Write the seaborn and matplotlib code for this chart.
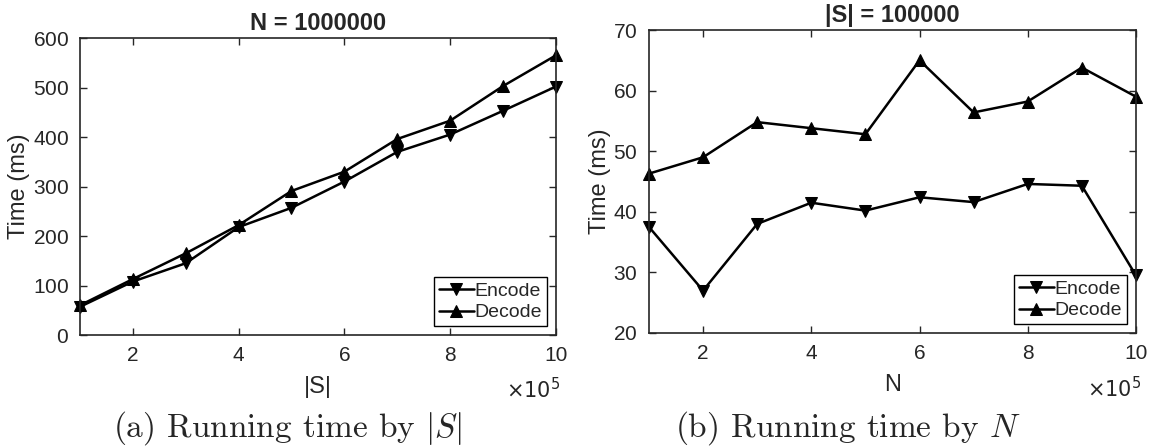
import numpy as np
import pandas as pd
import seaborn as sns
import matplotlib
matplotlib.use("Agg")
import matplotlib.pyplot as plt
from matplotlib.ticker import FuncFormatter

# x values (multiples of 1e5)
x_vals = [100000, 200000, 300000, 400000, 500000, 600000, 700000, 800000, 900000, 1000000]

# (a) running time by |S|, N = 1000000
enc_by_s = [57, 108, 145, 218, 257, 310, 370, 405, 453, 502]
dec_by_s = [60, 113, 165, 222, 291, 330, 396, 433, 503, 565]

# (b) running time by N, |S| = 100000
enc_by_n = [37.5, 27.0, 38.0, 41.5, 40.2, 42.4, 41.6, 44.6, 44.3, 29.5]
dec_by_n = [46.3, 49.0, 54.8, 53.8, 52.8, 65.0, 56.4, 58.2, 63.8, 59.0]

ops = ["Encode", "Decode"]

sns.set_theme(style="ticks")
plt.rcParams["font.family"] = ["Liberation Sans", "DejaVu Sans"]
plt.rcParams["mathtext.fontset"] = "cm"
plt.rcParams["axes.formatter.use_mathtext"] = True

fig = plt.figure(figsize=(11.57, 4.48), dpi=100)
ax1 = fig.add_axes([0.0691, 0.2522, 0.4114, 0.6629])
ax2 = fig.add_axes([0.5609, 0.2567, 0.4209, 0.6763])


def long_df(enc, dec):
    return pd.DataFrame({
        "x": x_vals * 2,
        "t": enc + dec,
        "op": ["Encode"] * len(enc) + ["Decode"] * len(dec),
    })


def draw(ax, df, title, xlabel, ylim, yticks, caption, cap_x):
    sns.lineplot(data=df, x="x", y="t", hue="op", style="op", hue_order=ops,
                 style_order=ops, palette={"Encode": "black", "Decode": "black"},
                 markers={"Encode": "v", "Decode": "^"}, dashes=False,
                 markersize=8, linewidth=1.8, markeredgecolor="black", ax=ax)
    for ln in ax.get_lines():
        ln.set_clip_on(False)
    ax.set_xlim(100000, 1000000)
    ax.set_ylim(*ylim)
    ax.set_yticks(yticks)
    ax.set_xticks([200000, 400000, 600000, 800000, 1000000])
    ax.xaxis.set_major_formatter(FuncFormatter(lambda v, p: "%d" % round(v / 1e5)))
    ax.tick_params(direction="in", top=True, right=True, labelsize=15,
                   length=5, width=1, colors="#262626", pad=8)
    for s in ax.spines.values():
        s.set_color("#262626")
        s.set_linewidth(1.2)
    ax.set_title(title, fontsize=17, fontweight="bold", pad=6)
    ax.set_xlabel(xlabel, fontsize=17, color="#262626", labelpad=8)
    ax.set_ylabel("Time (ms)", fontsize=17, color="#262626", labelpad=2)
    ax.text(1.01, -0.185, r"$\times 10^5$", transform=ax.transAxes, ha="right",
            va="center", fontsize=15, color="#262626",
            math_fontfamily="dejavusans")
    leg = ax.legend(loc="lower right", fontsize=14, frameon=True, fancybox=False,
                    edgecolor="black", handlelength=1.8, handletextpad=0.05,
                    borderpad=0.25, labelspacing=0.2, borderaxespad=0.45,
                    framealpha=1)
    leg.get_frame().set_linewidth(1.0)
    fig.text(cap_x / 1157, 0.045, caption, ha="center", va="center",
             fontsize=24, family="cmr10", math_fontfamily="cm")


draw(ax1, long_df(enc_by_s, dec_by_s), "N = 1000000", "|S|", (0, 600),
     range(0, 601, 100), r"(a) Running time by $|S|$", 288)
draw(ax2, long_df(enc_by_n, dec_by_n), "|S| = 100000", "N", (20, 70),
     range(20, 71, 10), r"(b) Running time by $N$", 848)

fig.savefig("out.png", dpi=100)
